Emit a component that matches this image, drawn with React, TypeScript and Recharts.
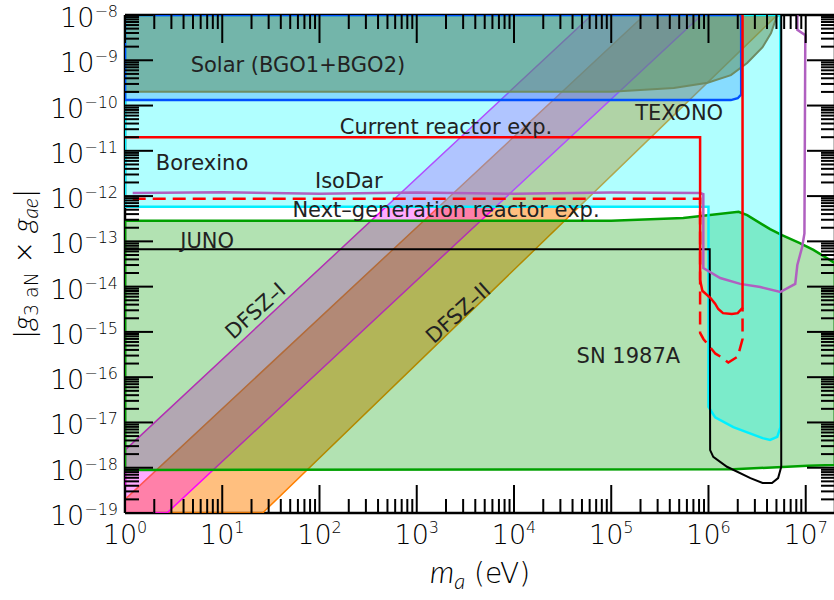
import { ScatterChart, Scatter, XAxis, YAxis } from "recharts"

type Pt = [number, number]

// [m_a (eV), |g3aN x gae|]
const dfsz2Band: Pt[] = [[1, 1e-19], [1, 2.0e-19], [2.2e5, 1e-8], [5.1e6, 1e-8], [26, 1e-19]]
const dfsz1Band: Pt[] = [[1, 1e-19], [1, 2.45e-18], [6.3e4, 1e-8], [8.5e5, 1e-8], [2.7, 1e-19]]

const sn1987a: Pt[] = [
  [1, 2.85e-13], [1e5, 2.85e-13], [5.5e5, 3.3e-13], [2.04e6, 4.5e-13], [2.5e6, 3.8e-13],
  [4.3e6, 1.86e-13], [5.7e6, 1.38e-13], [8.7e6, 9.1e-14], [1.2e7, 6.5e-14], [2e7, 3.3e-14],
  [2e7, 1.15e-18], [1.05e7, 1.1e-18], [1.8e6, 9.3e-19], [1, 8.9e-19],
]

const borexino: Pt[] = [
  [1, 1e-8], [1, 5.8e-13], [1.0e6, 5.8e-13], [1.0e6, 2.2e-17], [1.08e6, 1.7e-17],
  [1.17e6, 1.3e-17], [1.8e6, 7.9e-18], [3.6e6, 4.5e-18], [4.3e6, 4.1e-18],
  [5.1e6, 4.8e-18], [5.5e6, 7.9e-18], [5.5e6, 1e-8],
]

const texono: Pt[] = [
  [1, 1e-8], [1, 1.32e-10], [1.7e6, 1.32e-10], [2.0e6, 1.45e-10], [2.17e6, 1.75e-10], [2.17e6, 1e-8],
]

const solarBgo: Pt[] = [
  [1, 1e-8], [1, 2.02e-10], [1e5, 2.02e-10], [4.4e5, 2.45e-10], [9.8e5, 3.2e-10],
  [1.7e6, 4.7e-10], [2.5e6, 8.7e-10], [3.6e6, 1.95e-9], [4.4e6, 4.0e-9], [5.1e6, 1e-8],
]

const juno: Pt[] = [
  [1, 6.7e-14], [1.03e6, 6.7e-14], [1.04e6, 2.45e-18], [1.12e6, 1.74e-18], [1.55e6, 1.05e-18],
  [2.7e6, 5.9e-19], [3.6e6, 4.6e-19], [4.5e6, 4.6e-19], [5.2e6, 5.9e-19], [5.6e6, 1.05e-18], [5.6e6, 1e-8],
]

const isoDar: Pt[] = [
  [1.2, 1.17e-12], [10, 1.22e-12], [100, 1.12e-12], [1e3, 1.2e-12], [1e4, 1.13e-12],
  [1e5, 1.2e-12], [8.2e5, 1.17e-12], [8.85e5, 1.1e-12], [8.85e5, 2.58e-14], [1.32e6, 1.55e-14],
  [2.12e6, 1.15e-14], [3.41e6, 9.8e-15], [5.48e6, 7.6e-15], [7.8e6, 1.15e-14], [8.2e6, 3.0e-14],
  [9.2e6, 7.6e-14], [9.7e6, 1.5e-13], [9.9e6, 3.6e-9], [8.2e6, 4.7e-9], [8.2e6, 1e-8],
]

const nextGenReactor: Pt[] = [
  [1.2, 8.7e-13], [8.2e5, 8.7e-13], [8.2e5, 9.5e-16], [8.9e5, 6.9e-16], [1.0e6, 5.1e-16],
  [1.18e6, 3.3e-16], [1.33e6, 2.85e-16], [1.6e6, 2.1e-16], [2.0e6, 2.85e-16], [2.24e6, 6.9e-16], [2.24e6, 3.4e-15],
]

const currentReactor: Pt[] = [
  [1, 2.0e-11], [8.2e5, 2.0e-11], [8.2e5, 1.41e-14], [8.65e5, 8.1e-15], [1.05e6, 5.6e-15],
  [1.17e6, 4.2e-15], [1.26e6, 3.2e-15], [1.41e6, 2.6e-15], [1.74e6, 2.5e-15], [2.0e6, 2.6e-15],
  [2.24e6, 3.4e-15], [2.24e6, 1e-8],
]

const regionLabels = [
  { x: 60, y: 7.9e-10, text: "Solar (BGO1+BGO2)", angle: 0 },
  { x: 5.0e5, y: 6.7e-11, text: "TEXONO", angle: 0 },
  { x: 2000, y: 3.4e-11, text: "Current reactor exp.", angle: 0 },
  { x: 6.2, y: 5.4e-12, text: "Borexino", angle: 0 },
  { x: 200, y: 2.15e-12, text: "IsoDar", angle: 0 },
  { x: 2000, y: 4.9e-13, text: "Next\u2013generation reactor exp.", angle: 0 },
  { x: 7, y: 1.02e-13, text: "JUNO", angle: 0 },
  { x: 1.5e5, y: 2.9e-16, text: "SN 1987A", angle: 0 },
  { x: 22, y: 2.9e-15, text: "DFSZ\u2013I", angle: -42 },
  { x: 2670, y: 2.6e-15, text: "DFSZ\u2013II", angle: -42 },
]

const xDecades = [0, 1, 2, 3, 4, 5, 6, 7]
const yDecades = [-19, -18, -17, -16, -15, -14, -13, -12, -11, -10, -9, -8]
const minorSteps = [2, 3, 4, 5, 6, 7, 8, 9]

const X_DOMAIN: [number, number] = [1, 2e7]
const Y_DOMAIN: [number, number] = [1e-19, 1e-8]

const xTicks = xDecades.flatMap((d) => [10 ** d, ...minorSteps.map((m) => m * 10 ** d)]).filter((v) => v < 2e7)
const yTicks = yDecades.flatMap((d) => (d < -8 ? [10 ** d, ...minorSteps.map((m) => m * 10 ** d)] : [10 ** d]))

const FONT = "'DejaVu Sans', sans-serif"
const ITALIC_FONT = "Lato, 'DejaVu Sans', sans-serif"
const THIN = 200

const xy = (pts: Pt[]) => pts.map(([m, g]) => ({ x: m, y: g }))
const exponent = (v: number) => Math.round(Math.log10(v))
const isMajor = (v: number) => Math.abs(Math.log10(v) - exponent(v)) < 1e-6
const expText = (e: number) => (e < 0 ? "\u2212" + -e : String(e))

const noDot = () => <g />

const outline = (style: any, closed = false) => (p: any) => {
  const pts = p.points || []
  const d = pts.map((q: any, i: number) => `${i ? "L" : "M"}${q.x},${q.y}`).join("") + (closed ? "Z" : "")
  return <path d={d} {...style} />
}

function XTick(props: any) {
  const { x, y, payload, side } = props
  const major = isMajor(payload.value)
  const len = major ? 28 : 14
  const dir = side === "bottom" ? -1 : 1
  return (
    <g>
      <line x1={x} x2={x} y1={y} y2={y + dir * len} stroke="#000" strokeWidth={2} />
      {major && side === "bottom" && (
        <text x={x} y={y + 31} textAnchor="middle" fontSize={27} fontWeight={THIN} fontFamily={FONT} fill="#000">
          10<tspan dy={-11} fontSize={16}>{expText(exponent(payload.value))}</tspan>
        </text>
      )}
    </g>
  )
}

function YTick(props: any) {
  const { x, y, payload, side } = props
  const major = isMajor(payload.value)
  const len = major ? 28 : 14
  const dir = side === "left" ? 1 : -1
  return (
    <g>
      <line x1={x} x2={x + dir * len} y1={y} y2={y} stroke="#000" strokeWidth={2} />
      {major && side === "left" && (
        <text x={x - 7} y={y + 12} textAnchor="end" fontSize={27} fontWeight={THIN} fontFamily={FONT} fill="#000">
          10<tspan dy={-10} fontSize={16}>{expText(exponent(payload.value))}</tspan>
        </text>
      )}
    </g>
  )
}

const ital = { fontStyle: "italic", fontFamily: ITALIC_FONT, fontWeight: 300 } as const

function XTitle(props: any) {
  const vb = props.viewBox
  return (
    <text x={vb.x + vb.width / 2} y={583} textAnchor="middle" fontSize={28} fontWeight={THIN} fontFamily={FONT} fill="#000">
      <tspan {...ital} fontSize={31}>m</tspan>
      <tspan {...ital} fontSize={22} dy={6}>a</tspan>
      <tspan dy={-6}> (eV)</tspan>
    </text>
  )
}

function YTitle(props: any) {
  const vb = props.viewBox
  const cy = vb.y + vb.height / 2
  return (
    <text x={33} y={cy} transform={`rotate(-90 33 ${cy})`} textAnchor="middle" fontSize={27} fontWeight={THIN} fontFamily={FONT} fill="#000">
      |<tspan {...ital} fontSize={30}>g</tspan>
      <tspan fontSize={19} dy={5}>3 aN</tspan>
      <tspan dy={-5}> × </tspan>
      <tspan {...ital} fontSize={30}>g</tspan>
      <tspan {...ital} fontSize={21} dy={5}>ae</tspan>
      <tspan dy={-5}>|</tspan>
    </text>
  )
}

function RegionLabel(p: any) {
  const d = p.payload
  return (
    <text
      x={p.cx}
      y={p.cy}
      textAnchor="middle"
      dominantBaseline="central"
      fontSize={21}
      fontFamily={FONT}
      fill="#222"
      transform={d.angle ? `rotate(${d.angle} ${p.cx} ${p.cy})` : undefined}
    >
      {d.text}
    </text>
  )
}

const frame = { stroke: "#000", strokeWidth: 2.5 }

export default function App() {
  return (
    <div style={{ position: "absolute", left: 0, top: 0, width: 834, height: 600, overflow: "hidden", background: "#fff" }}>
      <ScatterChart width={842} height={600} margin={{ top: 0, right: 0, bottom: 0, left: 0 }}>
        <Scatter data={xy(dfsz2Band)} shape={noDot} isAnimationActive={false}
          line={outline({ fill: "rgba(255,128,0,0.5)", stroke: "#ff8000", strokeWidth: 1.5 }, true)} />
        <Scatter data={xy(dfsz1Band)} shape={noDot} isAnimationActive={false}
          line={outline({ fill: "rgba(255,0,255,0.33)", stroke: "#ff00ff", strokeWidth: 1.5 }, true)} />
        <Scatter data={xy(sn1987a)} shape={noDot} isAnimationActive={false}
          line={outline({ fill: "rgba(0,159,0,0.3)", stroke: "none" }, true)} />
        <Scatter data={xy(borexino)} shape={noDot} isAnimationActive={false}
          line={outline({ fill: "rgba(0,255,255,0.31)", stroke: "none" }, true)} />
        <Scatter data={xy(texono)} shape={noDot} isAnimationActive={false}
          line={outline({ fill: "rgba(30,130,255,0.28)", stroke: "none" }, true)} />
        <Scatter data={xy(solarBgo)} shape={noDot} isAnimationActive={false}
          line={outline({ fill: "rgba(96,142,86,0.5)", stroke: "#6e8c64", strokeWidth: 2 }, true)} />
        <Scatter data={xy(sn1987a)} shape={noDot} isAnimationActive={false}
          line={outline({ fill: "none", stroke: "#00a000", strokeWidth: 2.5 }, true)} />
        <Scatter data={xy(borexino)} shape={noDot} isAnimationActive={false}
          line={outline({ fill: "none", stroke: "#00f0ff", strokeWidth: 2.5 }, true)} />
        <Scatter data={xy(texono)} shape={noDot} isAnimationActive={false}
          line={outline({ fill: "none", stroke: "#0050ff", strokeWidth: 2.5 }, true)} />
        <Scatter data={xy(juno)} shape={noDot} isAnimationActive={false}
          line={outline({ fill: "none", stroke: "#000", strokeWidth: 2 })} />
        <Scatter data={xy(isoDar)} shape={noDot} isAnimationActive={false}
          line={outline({ fill: "none", stroke: "#b060c0", strokeWidth: 2.5 })} />
        <Scatter data={xy(nextGenReactor)} shape={noDot} isAnimationActive={false}
          line={outline({ fill: "none", stroke: "#ff0000", strokeWidth: 2.5, strokeDasharray: "13 7" })} />
        <Scatter data={xy(currentReactor)} shape={noDot} isAnimationActive={false}
          line={outline({ fill: "none", stroke: "#ff0000", strokeWidth: 2.5 })} />
        <Scatter data={regionLabels} shape={RegionLabel} isAnimationActive={false} />

        <XAxis dataKey="x" type="number" scale="log" domain={X_DOMAIN} allowDataOverflow
          ticks={xTicks} interval={0} tickSize={0} tickMargin={0} height={87}
          axisLine={frame} tickLine={false} tick={<XTick side="bottom" />}
          label={{ content: XTitle }} />
        <XAxis xAxisId="top" orientation="top" dataKey="x" type="number" scale="log" domain={X_DOMAIN} allowDataOverflow
          ticks={xTicks} interval={0} tickSize={0} tickMargin={0} height={15}
          axisLine={frame} tickLine={false} tick={<XTick side="top" />} />
        <YAxis dataKey="y" type="number" scale="log" domain={Y_DOMAIN} allowDataOverflow
          ticks={yTicks} interval={0} tickSize={0} tickMargin={0} width={125}
          axisLine={frame} tickLine={false} tick={<YTick side="left" />}
          label={{ content: YTitle }} />
        <YAxis yAxisId="right" orientation="right" dataKey="y" type="number" scale="log" domain={Y_DOMAIN} allowDataOverflow
          ticks={yTicks} interval={0} tickSize={0} tickMargin={0} width={7}
          axisLine={frame} tickLine={false} tick={<YTick side="right" />} />
      </ScatterChart>
    </div>
  )
}
